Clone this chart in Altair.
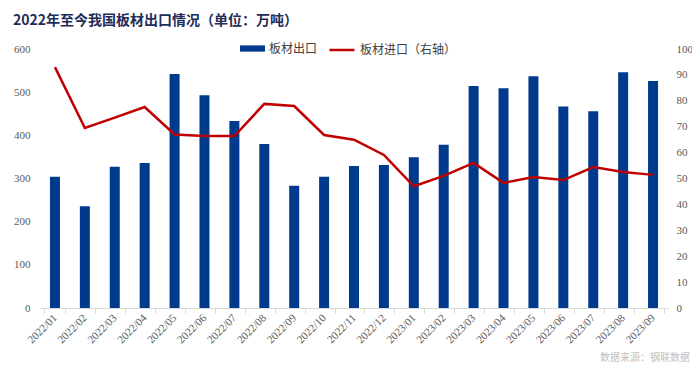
import altair as alt
import pandas as pd

months = ["2022/01","2022/02","2022/03","2022/04","2022/05","2022/06","2022/07","2022/08","2022/09","2022/10","2022/11","2022/12",
          "2023/01","2023/02","2023/03","2023/04","2023/05","2023/06","2023/07","2023/08","2023/09"]
exports = [304, 236, 327, 336, 542, 493, 433, 380, 283, 304, 329, 331, 349, 378, 514, 509, 537, 467, 456, 546, 526]
imports = [93.0, 69.5, 73.5, 77.6, 67.0, 66.4, 66.4, 78.8, 78.0, 66.8, 65.0, 59.1, 47.0, 51.0, 56.0, 48.3, 50.6, 49.4, 54.4, 52.5, 51.4]

df = pd.DataFrame({"month": months, "exp": exports, "imp": imports})
df["s1"] = "板材出口"
df["s2"] = "板材进口（右轴）"

BLUE = "#003A8C"
RED = "#C00000"
SERIF = "Liberation Serif"
CJK = "Noto Sans CJK SC"

xenc = alt.X("month:N", sort=months, title=None,
             axis=alt.Axis(labelAngle=-45, labelAlign="right", labelBaseline="middle",
                           labelFont=SERIF, labelFontSize=11, labelColor="#595959",
                           domainColor="#D9D9D9", tickColor="#D9D9D9", tickSize=5,
                           tickBand="extent", labelPadding=3, grid=False),
             scale=alt.Scale(paddingInner=0.3, paddingOuter=0.15))

base = alt.Chart(df)

bars = base.mark_bar(size=10).encode(
    x=xenc,
    y=alt.Y("exp:Q", title=None, scale=alt.Scale(domain=[0, 600]),
            axis=alt.Axis(values=list(range(0, 601, 100)), domain=False, ticks=False, grid=False,
                          labelFont=SERIF, labelFontSize=11, labelColor="#595959", labelPadding=10)),
    color=alt.Color("s1:N", scale=alt.Scale(domain=["板材出口"], range=[BLUE]),
                    legend=alt.Legend(title=None, orient="none", legendX=200, legendY=-13,
                                      symbolType="M-1,-0.25L1,-0.25L1,0.25L-1,0.25Z", symbolSize=625,
                                      symbolStrokeWidth=0, labelFont=CJK, labelFontSize=12,
                                      labelColor="#404040", labelOffset=4)),
)

line = base.mark_line(strokeWidth=2.5).encode(
    x=xenc,
    y=alt.Y("imp:Q", title=None, scale=alt.Scale(domain=[0, 100]),
            axis=alt.Axis(orient="right", values=list(range(0, 101, 10)), domain=False, ticks=False,
                          grid=False, labelFont=SERIF, labelFontSize=11, labelColor="#595959",
                          labelPadding=8)),
    color=alt.Color("s2:N", scale=alt.Scale(domain=["板材进口（右轴）"], range=[RED]),
                    legend=alt.Legend(title=None, orient="none", legendX=288, legendY=-13,
                                      symbolType="stroke", symbolSize=625, symbolStrokeWidth=2.5,
                                      labelFont=CJK, labelFontSize=12, labelColor="#404040",
                                      labelOffset=4)),
)

source = alt.Chart(pd.DataFrame({"t": ["数据来源：钢联数据"]})).mark_text(
    align="right", baseline="middle", font=CJK, fontSize=10, color="#BFBFBF"
).encode(text="t:N", x=alt.value(650), y=alt.value(309))

chart = alt.layer(bars, line, source).resolve_scale(
    y="independent", color="independent"
).properties(
    width=628, height=259,
    autosize=alt.AutoSizeParams(type="none"),
    padding={"left": 32, "top": 41, "right": 24, "bottom": 57},
    title=alt.TitleParams("2022年至今我国板材出口情况（单位：万吨）", anchor="start", frame="group",
                          dx=-27, dy=-4, font=CJK, fontSize=14, fontWeight="bold", color="#1F2D5A"),
).configure_view(stroke=None)

chart.save("out.html", embed_options={"renderer": "svg", "actions": False})
